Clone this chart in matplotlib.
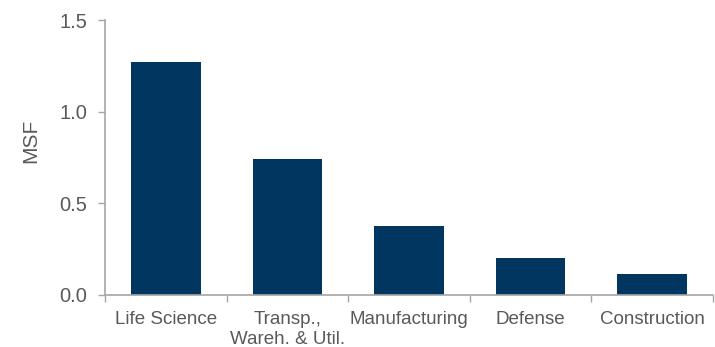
import matplotlib
matplotlib.use("Agg")
import matplotlib.pyplot as plt
import numpy as np

categories = ["Life Science", "Transp.,\nWareh. & Util.", "Manufacturing", "Defense", "Construction"]
values = [1.27, 0.742, 0.377, 0.20, 0.115]

bar_color = "#003660"
axis_color = "#A6A6A6"
text_color = "#595959"

plt.rcParams['font.family'] = ['Liberation Sans', 'DejaVu Sans']

fig = plt.figure(figsize=(7.15, 3.47), dpi=100)
ax = fig.add_axes([0.147, 0.150, 0.850, 0.792])

x = np.arange(len(categories))
ax.bar(x, values, width=0.57, color=bar_color, zorder=2)

ax.set_xlim(-0.5, len(categories) - 0.5)
ax.set_ylim(0, 1.5)
ax.set_yticks([0, 0.5, 1.0, 1.5])
ax.set_yticklabels(["0.0", "0.5", "1.0", "1.5"])

# boundaries get tick marks, centres get the labels
ax.set_xticks(np.arange(len(categories) + 1) - 0.5)
ax.set_xticklabels([])
ax.set_xticks(x, minor=True)
ax.set_xticklabels(categories, minor=True, linespacing=1.2)
ax.tick_params(axis='x', which='major', length=5, width=1, color=axis_color, direction='out')
ax.tick_params(axis='x', which='minor', length=0, pad=11.5, labelsize=13.5, labelcolor=text_color)
ax.tick_params(axis='y', length=5, width=1, color=axis_color, direction='out',
               labelsize=14.5, labelcolor=text_color, pad=8)

for s in ['top', 'right']:
    ax.spines[s].set_visible(False)
for s in ['left', 'bottom']:
    ax.spines[s].set_color(axis_color)
    ax.spines[s].set_linewidth(1.2)

ax.set_ylabel("MSF", fontsize=15, color=text_color, va='center')
ax.yaxis.set_label_coords(-0.1225, 0.56)

fig.savefig("out.png", dpi=100)
